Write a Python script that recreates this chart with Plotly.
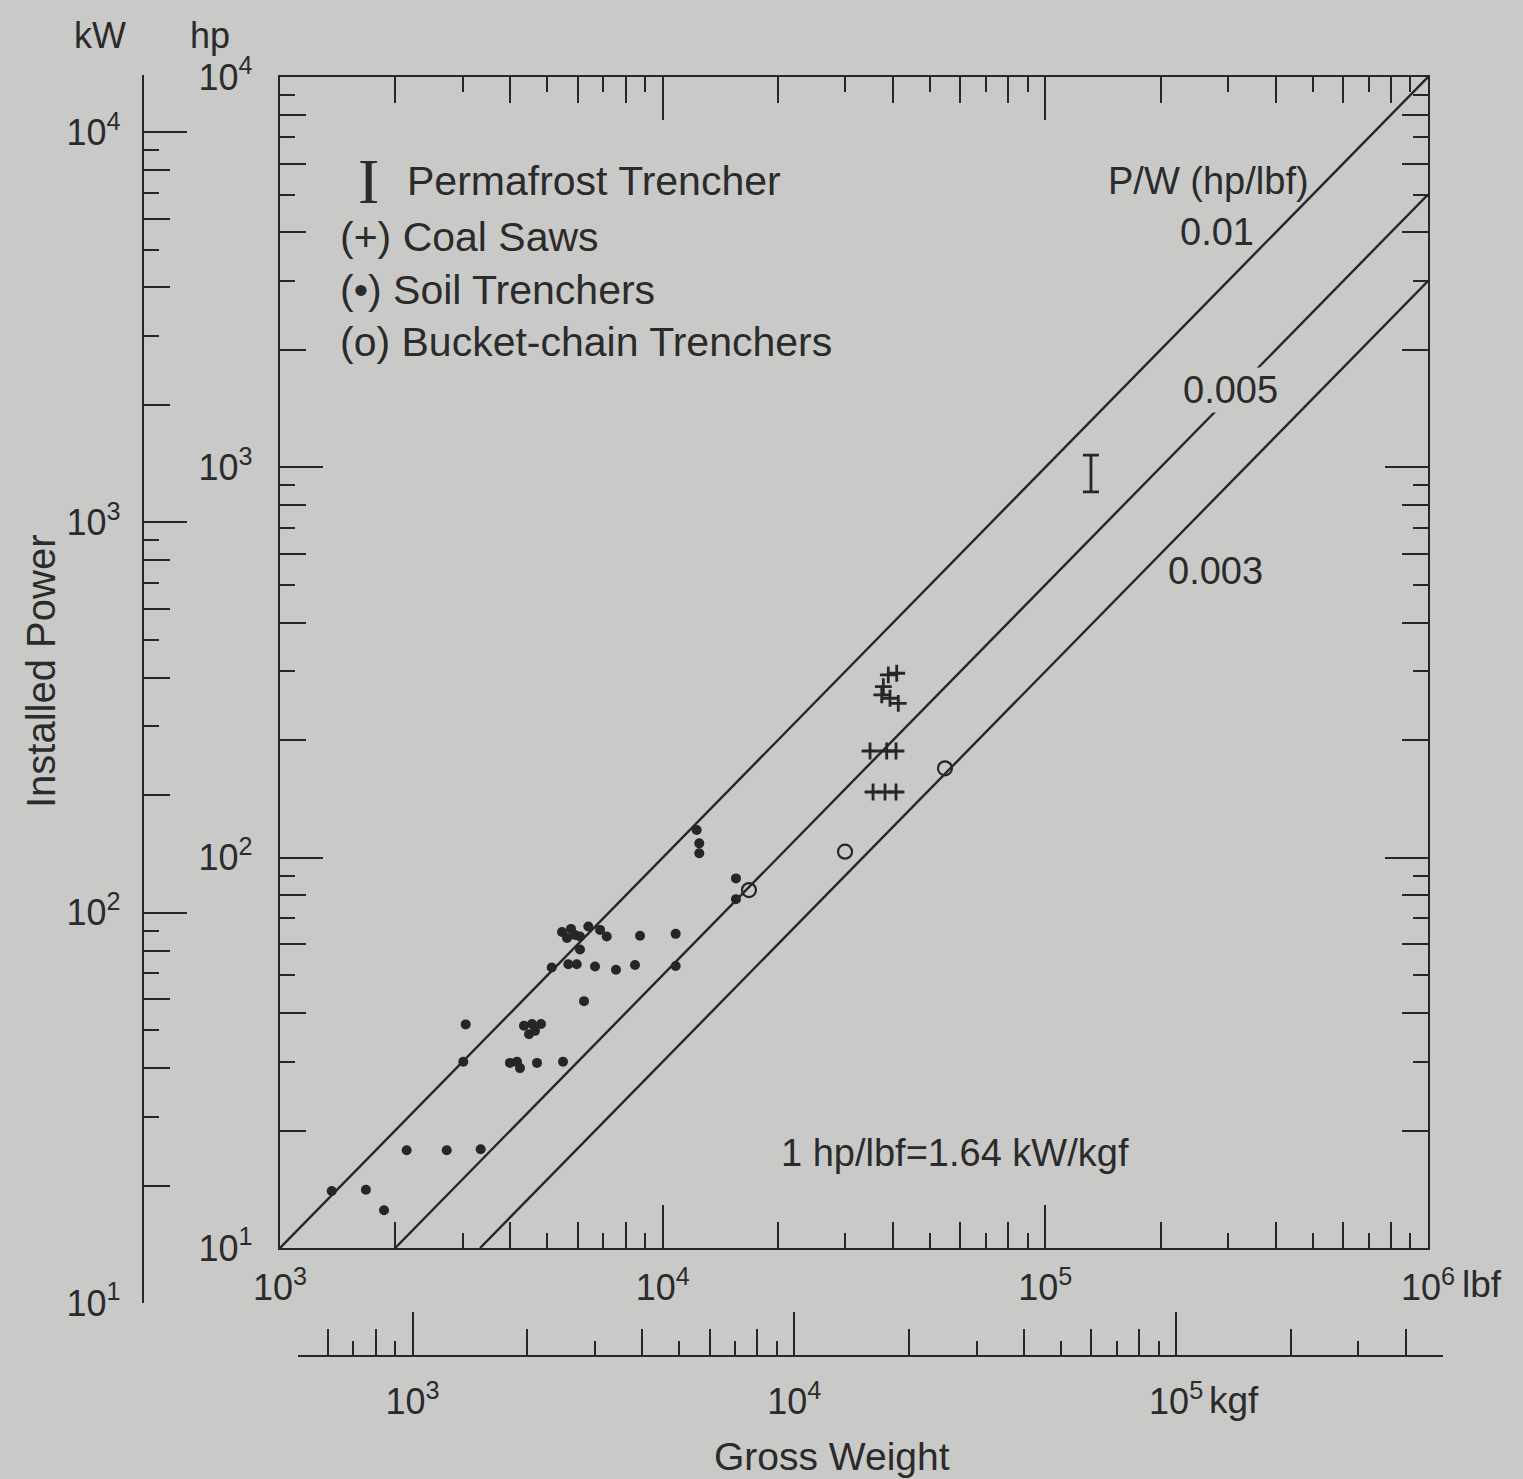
import math
import plotly.graph_objects as go

# ---------------- data ----------------
# Soil trenchers (.)  gross weight [lbf], installed power [hp]
soil_w = [1365, 1677, 1870, 2143, 2727, 3345, 3013, 3057, 3990, 4162, 4238, 4694,
          5490, 4341, 4555, 4809, 4474, 4638, 6230, 5129, 5668, 5962, 6657, 7551,
          8467, 10815, 6081, 5457, 5623, 5760, 5901, 6081, 6393, 6861, 7142, 8726,
          10815, 12270, 12465, 12465, 15545, 15545]
soil_p = [14.0, 14.1, 12.5, 17.8, 17.8, 17.9, 30.0, 37.4, 29.8, 30.0, 28.9, 29.8,
          30.0, 37.1, 37.5, 37.5, 35.3, 36.0, 42.9, 52.3, 53.3, 53.3, 52.6, 51.6,
          53.1, 52.8, 58.2, 64.5, 62.3, 65.7, 63.4, 62.8, 66.6, 65.3, 62.8, 63.1,
          63.8, 117.7, 108.8, 102.6, 88.5, 78.3]

# Coal saws (+)
coal_w = [40890, 38870, 37730, 37370, 39270, 41280, 34830, 38500, 40720, 35460, 38110, 40720]
coal_p = [296.8, 293.8, 274.2, 261.1, 256.1, 248.6, 187.6, 187.6, 187.6, 147.3, 147.3, 147.3]

# Bucket-chain trenchers (o)
bucket_w = [16810, 29960, 54670]
bucket_p = [82.6, 103.6, 169.4]

# Permafrost trencher (I): weight and power range
perma_w = [131600]
perma_p_low = [865]
perma_p_high = [1075]

# Constant power-to-weight lines P/W [hp/lbf]
pw_ratios = [0.01, 0.005, 0.003]
pw_labels = ["0.01", "0.005", "0.003"]

# axis extents
lbf_range = [1e3, 1e6]
hp_range = [1e1, 1e4]
kgf_range = [5e2, 5e5]

# ---------------- styling ----------------
W_PX, H_PX = 1523, 1479
BG = "#c9cac8"
INK = "#262626"
TXT = "#2b2b2b"
FONT = "Liberation Sans, Arial, sans-serif"
CLEAR = "rgba(0,0,0,0)"


def fx(p):
    return p / W_PX


def fy(p):
    return 1 - p / H_PX


def sup(v):
    return "10<sup>%d</sup>" % round(math.log10(v))


def decades(lo, hi):
    return [10 ** k for k in range(round(math.floor(math.log10(lo) + 1e-9)), round(math.ceil(math.log10(hi) - 1e-9)) + 1)
            if lo * 0.999 <= 10 ** k <= hi * 1.001]


def minors(lo, hi, mults):
    out = []
    for k in range(round(math.floor(math.log10(lo))) - 1, round(math.ceil(math.log10(hi))) + 1):
        for m in mults:
            v = m * 10 ** k
            if lo * 0.999 <= v <= hi * 1.001:
                out.append(v)
    return out


EVEN = [2, 4, 6, 8]
ODD = [3, 5, 7, 9]
LEN_MAJ, LEN_EVEN, LEN_ODD = 43, 26, 15
TW = 2.4

fig = go.Figure()

# P/W lines
for r in pw_ratios:
    w0 = max(lbf_range[0], hp_range[0] / r)
    w1 = min(lbf_range[1], hp_range[1] / r)
    fig.add_trace(go.Scatter(x=[w0, w1], y=[r * w0, r * w1], mode="lines",
                             line=dict(color=INK, width=2.4), showlegend=False, hoverinfo="skip"))

fig.add_trace(go.Scatter(x=soil_w, y=soil_p, mode="markers", name="Soil Trenchers",
                         marker=dict(symbol="circle", size=10, color=INK), showlegend=False))
fig.add_trace(go.Scatter(x=coal_w, y=coal_p, mode="markers", name="Coal Saws",
                         marker=dict(symbol="cross-thin", size=12, color=INK,
                                     line=dict(color=INK, width=2.8)), showlegend=False))
fig.add_trace(go.Scatter(x=bucket_w, y=bucket_p, mode="markers", name="Bucket-chain Trenchers",
                         marker=dict(symbol="circle-open", size=14, color=INK,
                                     line=dict(color=INK, width=2.2)), showlegend=False))
perma_mid = [math.sqrt(a * b) for a, b in zip(perma_p_low, perma_p_high)]
fig.add_trace(go.Scatter(x=perma_w, y=perma_mid, mode="markers", name="Permafrost Trencher",
                         marker=dict(size=1, color=CLEAR), showlegend=False,
                         error_y=dict(type="data", symmetric=False,
                                      array=[h - m for h, m in zip(perma_p_high, perma_mid)],
                                      arrayminus=[m - l for l, m in zip(perma_p_low, perma_mid)],
                                      color=INK, thickness=2.8, width=8)))

# kW scale geometry (as drawn in the reference)
kw_lo_px, kw_top_px, kw_dec = 1303, 75, 390.3
kw_range = [1, 1 + (kw_lo_px - kw_top_px) / kw_dec]
kw_vals = [10 ** kw_range[0], 10 ** kw_range[1]]

# invisible helper traces so that the secondary scales are instantiated
for xa, ya, xs, ys in [("x3", "y3", lbf_range, hp_range),
                       ("x2", "y2", kgf_range, kw_vals),
                       ("x4", "y4", kgf_range, kw_vals)]:
    fig.add_trace(go.Scatter(x=xs, y=ys, xaxis=xa, yaxis=ya, mode="markers",
                             marker=dict(size=1, color=CLEAR), showlegend=False,
                             hoverinfo="skip"))


def base_axis(**kw):
    d = dict(type="log", showgrid=False, zeroline=False, ticks="inside",
             tickcolor=INK, tickwidth=TW, linecolor=INK, linewidth=TW,
             tickfont=dict(family=FONT, size=36, color=TXT), fixedrange=True,
             automargin=False)
    d.update(kw)
    return d


def log_rng(r):
    return [math.log10(r[0]), math.log10(r[1])]


# ---- main lbf axis (bottom, mirrored on top) ----
x_dom = [fx(280), fx(1428)]
y_dom = [fy(1248), fy(77)]
xmaj = decades(*lbf_range)
fig.update_layout(
    xaxis=base_axis(range=log_rng(lbf_range), domain=x_dom, anchor="y", showline=True,
                    mirror="ticks", ticklen=LEN_MAJ, tickvals=xmaj,
                    ticktext=[sup(v) for v in xmaj], ticklabelstandoff=7,
                    minor=dict(tickvals=minors(*lbf_range, EVEN), ticks="inside",
                               ticklen=LEN_EVEN, tickwidth=TW, tickcolor=INK, showgrid=False)),
    xaxis3=base_axis(range=log_rng(lbf_range), domain=x_dom, anchor="y3", overlaying="x",
                     showline=False, mirror="ticks", ticklen=LEN_ODD,
                     tickvals=minors(*lbf_range, ODD), showticklabels=False),
)

# ---- main hp axis (left, mirrored on right) ----
ymaj = decades(*hp_range)
fig.update_layout(
    yaxis=base_axis(range=log_rng(hp_range), domain=y_dom, anchor="x", showline=True,
                    mirror="ticks", ticklen=LEN_MAJ, tickvals=ymaj,
                    ticktext=[sup(v) for v in ymaj], ticklabelstandoff=18,
                    minor=dict(tickvals=minors(*hp_range, EVEN), ticks="inside",
                               ticklen=LEN_EVEN, tickwidth=TW, tickcolor=INK, showgrid=False)),
    yaxis3=base_axis(range=log_rng(hp_range), domain=y_dom, anchor="x3", overlaying="y",
                     showline=False, mirror="ticks", ticklen=LEN_ODD,
                     tickvals=minors(*hp_range, ODD), showticklabels=False),
)

# ---- kgf axis (free, below) ----
kg_dom = [fx(297.6), fx(1443)]
kmaj = decades(*kgf_range)
fig.update_layout(
    xaxis2=base_axis(range=log_rng(kgf_range), domain=kg_dom, anchor="free",
                     position=fy(1356), side="bottom", showline=True, ticklen=LEN_MAJ,
                     tickvals=kmaj, ticktext=[sup(v) for v in kmaj], ticklabelstandoff=14,
                     minor=dict(tickvals=minors(*kgf_range, EVEN), ticks="inside",
                                ticklen=LEN_EVEN, tickwidth=TW, tickcolor=INK, showgrid=False)),
    xaxis4=base_axis(range=log_rng(kgf_range), domain=kg_dom, anchor="free",
                     position=fy(1356), overlaying="x2", side="bottom", showline=False,
                     ticklen=LEN_ODD, tickvals=minors(*kgf_range, ODD), showticklabels=False),
)

# ---- kW axis (free, left) ----
kw_dom = [fy(kw_lo_px), fy(kw_top_px)]
wmaj = decades(*kw_vals)
fig.update_layout(
    yaxis2=base_axis(range=kw_range, domain=kw_dom, anchor="free", position=fx(143),
                     side="left", showline=True, ticklen=LEN_MAJ, tickvals=wmaj,
                     ticktext=[sup(v) for v in wmaj], ticklabelstandoff=14,
                     minor=dict(tickvals=minors(*kw_vals, EVEN), ticks="inside",
                                ticklen=LEN_EVEN, tickwidth=TW, tickcolor=INK, showgrid=False)),
    yaxis4=base_axis(range=kw_range, domain=kw_dom, anchor="free", position=fx(143),
                     overlaying="y2", side="left", showline=False, ticklen=LEN_ODD,
                     tickvals=minors(*kw_vals, ODD), showticklabels=False),
)

# ---------------- annotations ----------------
ann = []


def text(t, x, y, size=40, xanchor="center", yanchor="middle", angle=0, family=FONT, bg=None):
    d = dict(text=t, x=fx(x), y=fy(y), xref="paper", yref="paper", showarrow=False,
             xanchor=xanchor, yanchor=yanchor, textangle=angle,
             font=dict(family=family, size=size, color=TXT))
    if bg:
        d["bgcolor"] = bg
    ann.append(d)


text("kW", 100, 36, size=36)
text("hp", 210, 36, size=36)
text("Installed Power", 41, 672, size=40, angle=-90)
text("Gross Weight", 832, 1456, size=39)
text("lbf", 1460, 1284, size=37, xanchor="left")
text("kgf", 1207, 1400, size=37, xanchor="left")
text("P/W (hp/lbf)", 1208, 181, size=38)
text(pw_labels[0], 1217, 232, size=38)
text(pw_labels[1], 1230, 390, size=38, bg=BG)
text(pw_labels[2], 1215, 571, size=38)
text("1 hp/lbf=1.64 kW/kgf", 955, 1153, size=38)

text("I", 368, 181, size=64, family="Liberation Serif, DejaVu Serif, serif")
text("Permafrost Trencher", 405, 181, size=41, xanchor="left")
text("(+) Coal Saws", 338, 237, size=41, xanchor="left")
text("(\u2022) Soil Trenchers", 338, 290, size=41, xanchor="left")
text("(o) Bucket-chain Trenchers", 338, 342, size=41, xanchor="left")

fig.update_layout(
    template="none",
    width=W_PX, height=H_PX, autosize=False,
    margin=dict(l=0, r=0, t=0, b=0, pad=0, autoexpand=False),
    paper_bgcolor=BG, plot_bgcolor=CLEAR,
    showlegend=False, annotations=ann,
    font=dict(family=FONT, color=TXT),
)

fig.write_html("out.html",
               config={"displayModeBar": False},
               post_script="document.body.style.margin='0';"
                           "document.body.style.background='%s';" % BG)
